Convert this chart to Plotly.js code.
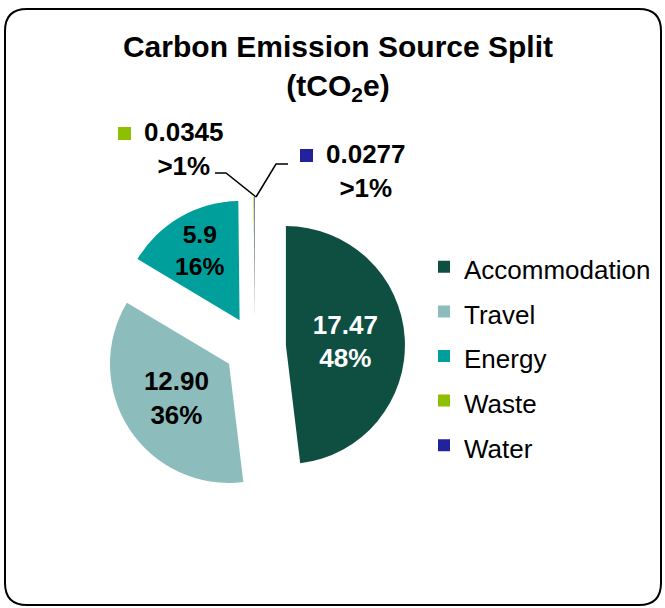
<!DOCTYPE html>
<html>
<head>
<meta charset="utf-8">
<script src="https://cdn.plot.ly/plotly-3.0.1.min.js"></script>
<style>html,body{margin:0;padding:0;background:#fff;}#chart{width:665px;height:608px;}</style>
</head>
<body>
<div id="chart"></div>
<script>
// Data
const categories = ['Accommodation', 'Travel', 'Energy', 'Waste', 'Water'];
const values = [17.47, 12.90, 5.9, 0.0345, 0.0277];
const valueLabels = ['17.47', '12.90', '5.9', '0.0345', '0.0277'];
const percentLabels = ['48%', '36%', '16%', '>1%', '>1%'];

const colors = ['#0f4f42', '#8cbcbc', '#009f9c', '#8cc000', '#22229a'];
const W = 665, H = 608;
const px = x => x / W;
const py = y => 1 - y / H;

const insideIdx = [0, 1, 2];
const texttemplate = categories.map((c, i) =>
  insideIdx.includes(i) ? valueLabels[i] + '<br>' + percentLabels[i] : '');
const textposition = categories.map((c, i) => insideIdx.includes(i) ? 'inside' : 'none');

const trace = {
  type: 'pie',
  labels: categories.map(c => '<span style="font-size:26px">' + c + '</span>'),
  values: values,
  sort: false,
  direction: 'clockwise',
  rotation: 0,
  pull: values.map(() => 0.26),
  marker: { colors: colors, line: { width: 0 } },
  texttemplate: texttemplate,
  textposition: textposition,
  insidetextorientation: 'horizontal',
  insidetextfont: { family: 'Arial, Liberation Sans', size: 26, weight: 700,
    color: ['#ffffff', '#000000', '#000000', '#000000', '#000000'] },
  hoverinfo: 'label+value+percent',
  domain: { x: [px(105), px(405)], y: [py(497), py(197)] }
};

// Rounded border
const L = 5, T = 9, R = 661, B = 605, rad = 22;
const borderPath =
  `M ${px(L + rad)},${py(T)} L ${px(R - rad)},${py(T)} Q ${px(R)},${py(T)} ${px(R)},${py(T + rad)} ` +
  `L ${px(R)},${py(B - rad)} Q ${px(R)},${py(B)} ${px(R - rad)},${py(B)} ` +
  `L ${px(L + rad)},${py(B)} Q ${px(L)},${py(B)} ${px(L)},${py(B - rad)} ` +
  `L ${px(L)},${py(T + rad)} Q ${px(L)},${py(T)} ${px(L + rad)},${py(T)} Z`;

const shapes = [
  { type: 'path', xref: 'paper', yref: 'paper', path: borderPath, line: { color: '#000', width: 2 }, layer: 'below' },
  // leader lines
  { type: 'path', xref: 'paper', yref: 'paper',
    path: `M ${px(256)},${py(197)} L ${px(226)},${py(173)} L ${px(215)},${py(173)}`,
    line: { color: '#000', width: 1.5 } },
  { type: 'path', xref: 'paper', yref: 'paper',
    path: `M ${px(256)},${py(197)} L ${px(276)},${py(164)} L ${px(288)},${py(164)}`,
    line: { color: '#000', width: 1.5 } },
  // label keys
  { type: 'rect', xref: 'paper', yref: 'paper', x0: px(118), x1: px(131), y0: py(140), y1: py(127),
    fillcolor: colors[3], line: { width: 0 } },
  { type: 'rect', xref: 'paper', yref: 'paper', x0: px(300), x1: px(313), y0: py(162), y1: py(149),
    fillcolor: colors[4], line: { width: 0 } }
];

const lblFont = { family: 'Arial, Liberation Sans', size: 26, weight: 700, color: '#000' };
const annotations = [
  { xref: 'paper', yref: 'paper', x: px(184), y: py(149), xanchor: 'center', yanchor: 'middle',
    text: valueLabels[3] + '<br>' + percentLabels[3].replace('>', '&gt;'), showarrow: false, align: 'center',
    font: lblFont },
  { xref: 'paper', yref: 'paper', x: px(366), y: py(171), xanchor: 'center', yanchor: 'middle',
    text: valueLabels[4] + '<br>' + percentLabels[4].replace('>', '&gt;'), showarrow: false, align: 'center',
    font: lblFont }
];

const layout = {
  width: W, height: H,
  margin: { l: 0, r: 0, t: 0, b: 0 },
  paper_bgcolor: '#ffffff',
  title: {
    text: 'Carbon Emission Source Split<br>(tCO<sub>2</sub>e)',
    x: px(338), xanchor: 'center', xref: 'paper',
    y: py(57), yanchor: 'top', yref: 'paper',
    font: { family: 'Arial, Liberation Sans', size: 30, weight: 700, color: '#000' }
  },
  showlegend: true,
  legend: {
    x: px(424), xanchor: 'left', y: py(356), yanchor: 'middle',
    font: { family: 'Arial, Liberation Sans', size: 32, color: '#000' },
    bgcolor: 'rgba(0,0,0,0)'
  },
  shapes: shapes,
  annotations: annotations
};

Plotly.newPlot('chart', [trace], layout, { displayModeBar: false, staticPlot: true });
</script>
</body>
</html>
